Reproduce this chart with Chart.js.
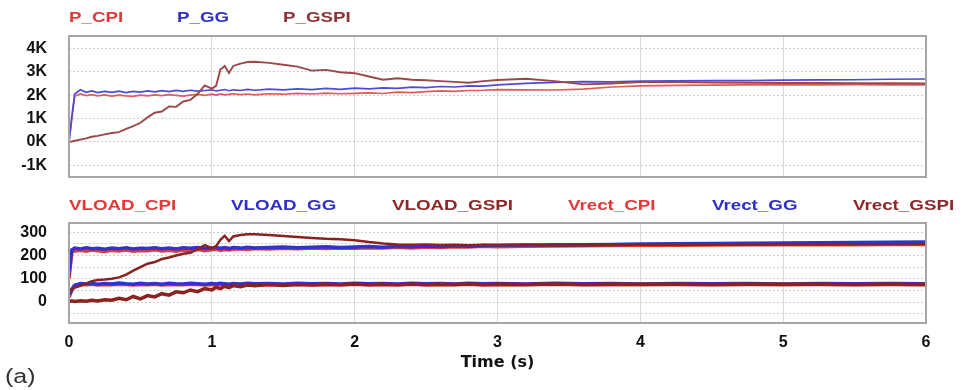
<!DOCTYPE html>
<html>
<head>
<meta charset="utf-8">
<script src="https://cdn.jsdelivr.net/npm/chart.js@4"></script>
<style>
  body { margin: 0; background: #fff; width: 963px; height: 390px; position: relative; overflow: hidden;
         font-family: "Liberation Sans", Arial, sans-serif; }
  .box { position: absolute; left: 0; width: 963px; }
  .lg { position: absolute; font-weight: bold; font-size: 15px; line-height: 18px; white-space: nowrap;
        transform: scaleX(1.25); transform-origin: left center; }
  #tag { position: absolute; left: 5px; top: 364px; font-size: 20px; line-height: 24px; color: #333;
         transform: scaleX(1.25); transform-origin: left center; }
</style>
</head>
<body>
<div class="box" style="top:190px;height:200px"><canvas id="voltChart" width="963" height="200"></canvas></div>
<div class="box" style="top:0;height:210px"><canvas id="powerChart" width="963" height="210"></canvas></div>

<span class="lg" style="left:69px;top:8px;color:#e23a3a">P_CPI</span>
<span class="lg" style="left:177px;top:8px;color:#3030c8">P_GG</span>
<span class="lg" style="left:283px;top:8px;color:#8e3434">P_GSPI</span>

<span class="lg" style="left:69px;top:196px;color:#e23a3a">VLOAD_CPI</span>
<span class="lg" style="left:231px;top:196px;color:#3030c8">VLOAD_GG</span>
<span class="lg" style="left:392px;top:196px;color:#8e2828">VLOAD_GSPI</span>
<span class="lg" style="left:568px;top:196px;color:#e23a3a">Vrect_CPI</span>
<span class="lg" style="left:712px;top:196px;color:#3030c8">Vrect_GG</span>
<span class="lg" style="left:853px;top:196px;color:#8e2828">Vrect_GSPI</span>

<span id="tag">(a)</span>

<script>
// time axis (s), shared by every series
const timeS = [0, 0.02, 0.04, 0.08, 0.12, 0.16, 0.2, 0.25, 0.3, 0.35,
    0.4, 0.45, 0.5, 0.55, 0.6, 0.65, 0.7, 0.75, 0.8, 0.85,
    0.9, 0.95, 1.0, 1.03, 1.06, 1.09, 1.12, 1.15, 1.2, 1.25,
    1.3, 1.4, 1.5, 1.6, 1.7, 1.8, 1.9, 2.0, 2.1, 2.2,
    2.3, 2.4, 2.5, 2.6, 2.7, 2.8, 2.9, 3.0, 3.2, 3.4,
    3.6, 3.8, 4.0, 4.25, 4.5, 4.75, 5.0, 5.25, 5.5, 5.75,
    6.0];

// power (W)
const pGG = [0, 1100, 2050, 2230, 2120, 2180, 2110, 2160, 2120, 2170,
    2110, 2160, 2130, 2180, 2140, 2190, 2150, 2200, 2160, 2210,
    2170, 2200, 2230, 2180, 2210, 2240, 2190, 2230, 2200, 2250,
    2210, 2260, 2230, 2270, 2240, 2290, 2250, 2300, 2270, 2310,
    2290, 2340, 2320, 2370, 2350, 2400, 2390, 2440, 2500, 2550,
    2580, 2570, 2600, 2610, 2620, 2620, 2640, 2650, 2660, 2680,
    2690];
const pCPI = [0, 1000, 1950, 2050, 1980, 2020, 1970, 2010, 1960, 2000,
    1970, 1950, 2000, 1970, 2010, 1980, 2020, 1990, 1960, 2000,
    2030, 1990, 2040, 2000, 2050, 2010, 2030, 2060, 2020, 2050,
    2010, 2060, 2040, 2080, 2050, 2090, 2060, 2080, 2100, 2070,
    2130, 2110, 2150, 2180, 2160, 2200, 2210, 2240, 2230, 2220,
    2260, 2350, 2400, 2420, 2430, 2440, 2440, 2440, 2450, 2440,
    2440];
const pGSPI = [0, 20, 50, 100, 150, 220, 260, 320, 380, 420,
    560, 680, 820, 1050, 1250, 1300, 1520, 1500, 1730, 1800,
    2050, 2420, 2280, 2400, 3100, 3250, 2950, 3250, 3350, 3420,
    3430, 3380, 3300, 3220, 3050, 3080, 2980, 2940, 2800, 2660,
    2720, 2660, 2640, 2600, 2570, 2530, 2600, 2650, 2700, 2600,
    2460, 2500, 2560, 2560, 2540, 2530, 2520, 2520, 2510, 2510,
    2500];

// voltages (V)
const vloadGG = [120, 225, 232, 228, 233, 229, 231, 227, 232, 229,
    233, 228, 231, 230, 234, 229, 232, 228, 233, 231,
    235, 230, 232, 236, 231, 234, 230, 235, 232, 236,
    233, 235, 237, 234, 236, 238, 235, 237, 239, 236,
    240, 238, 241, 239, 242, 240, 243, 244, 245, 247,
    246, 248, 250, 251, 252, 253, 254, 255, 256, 257,
    258];
const vloadCPI = [100, 215, 220, 223, 219, 224, 221, 218, 223, 220,
    224, 219, 222, 221, 225, 220, 223, 219, 224, 222,
    226, 221, 225, 228, 222, 226, 224, 227, 229, 226,
    230, 228, 231, 229, 232, 230, 233, 231, 234, 232,
    236, 233, 237, 235, 238, 237, 240, 238, 240, 241,
    242, 243, 244, 244, 245, 246, 246, 247, 247, 248,
    248];
const vloadGSPI = [40, 55, 62, 70, 80, 90, 95, 97, 100, 106,
    118, 135, 150, 165, 172, 185, 192, 200, 208, 212,
    228, 245, 232, 240, 268, 285, 262, 282, 288, 292,
    292, 288, 284, 280, 276, 272, 270, 266, 258, 252,
    248, 246, 248, 245, 247, 244, 246, 244, 246, 243,
    244, 245, 246, 246, 247, 247, 248, 248, 249, 249,
    250];
const vrectGG = [30, 55, 72, 80, 78, 81, 77, 80, 78, 82,
    79, 77, 81, 78, 80, 77, 81, 79, 78, 81,
    79, 77, 80, 78, 81, 79, 77, 80, 78, 81,
    79, 80, 78, 81, 79, 80, 78, 81, 79, 80,
    78, 81, 79, 80, 78, 81, 79, 80, 78, 81,
    79, 80, 78, 80, 79, 80, 78, 80, 79, 80,
    79];
const vrectCPI = [20, 50, 70, 76, 74, 77, 73, 76, 74, 77,
    75, 73, 76, 74, 77, 73, 76, 75, 74, 77,
    75, 73, 76, 74, 77, 75, 73, 76, 74, 77,
    75, 76, 74, 77, 75, 76, 74, 77, 75, 76,
    74, 77, 75, 76, 74, 77, 75, 76, 74, 77,
    75, 76, 74, 76, 75, 76, 74, 76, 75, 76,
    75];
const vrectGSPI = [2, 5, 3, 6, 4, 8, 5, 10, 8, 16,
    10, 24, 14, 28, 22, 36, 30, 44, 40, 52,
    45, 58, 52, 64, 58, 68, 62, 71, 66, 73,
    70, 75, 71, 76, 73, 77, 74, 78, 75, 77,
    74, 78, 75, 77, 76, 78, 75, 77, 76, 78,
    76, 77, 77, 77, 76, 77, 77, 77, 76, 77,
    76];

const timeTicks = [0, 1, 2, 3, 4, 5, 6];
const powerTicks = [-1000, 0, 1000, 2000, 3000, 4000];
const powerTickLabels = ['-1K', '0K', '1K', '2K', '3K', '4K'];
const voltTicks = [-50, 0, 50, 100, 150, 200, 250, 300];
const voltTickLabels = ['', '0', '', '100', '', '200', '', '300'];

const RED = '#e03a3a';
const BLUE = '#3232cc';
const DARK = '#8a2222';

function pts(ys) {
    return ys.map((y, i) => ({ x: timeS[i], y: y }));
}

function line(data, color, width) {
    return { data: pts(data), borderColor: color, borderWidth: width, pointRadius: 0, tension: 0, fill: false };
}

// grey frame round the plot area
const framePlugin = {
    id: 'frame',
    afterDraw(chart) {
        const a = chart.chartArea;
        const ctx = chart.ctx;
        ctx.save();
        ctx.strokeStyle = '#a6a6a6';
        ctx.lineWidth = 2;
        ctx.strokeRect(a.left, a.top, a.right - a.left, a.bottom - a.top);
        ctx.restore();
    }
};

const tickFont = { family: '"Liberation Sans", Arial, sans-serif', size: 16, weight: 'bold' };

function buildOptions(yMin, yMax, yTicks, yLabels, showX, padding) {
    return {
        responsive: false,
        animation: false,
        events: [],
        layout: { padding: padding },
        plugins: { legend: { display: false }, tooltip: { enabled: false } },
        scales: {
            x: {
                type: 'linear', min: 0, max: 6,
                afterBuildTicks: s => { s.ticks = timeTicks.map(v => ({ value: v })); },
                afterFit: s => { s.height = showX ? 67 : 0; },
                grid: { color: '#dadada', lineWidth: 1, drawTicks: false },
                border: { display: false },
                ticks: {
                    display: showX, autoSkip: false, maxRotation: 0, padding: 10,
                    color: '#111', font: tickFont,
                    callback: v => String(v)
                },
                title: {
                    display: showX, text: 'Time (s)', color: '#111',
                    font: { family: '"DejaVu Sans", sans-serif', size: 16, weight: 'bold' },
                    padding: { top: 0, bottom: 18 }
                }
            },
            y: {
                min: yMin, max: yMax,
                afterBuildTicks: s => { s.ticks = yTicks.map(v => ({ value: v })); },
                afterFit: s => { s.width = 69; },
                grid: { color: '#cdcdcd', lineWidth: 1, drawTicks: false },
                border: { display: false, dash: [2, 2] },
                ticks: {
                    autoSkip: false, padding: 22, color: '#111', font: tickFont,
                    callback: (v, i) => yLabels[i]
                }
            }
        }
    };
}

new Chart(document.getElementById('voltChart'), {
    type: 'line',
    data: {
        datasets: [
            line(vloadGSPI, DARK, 2.5),
            line(vrectGSPI, DARK, 3.5),
            line(vloadGG, BLUE, 3.5),
            line(vrectGG, BLUE, 3.5),
            line(vloadCPI, RED, 3.5),
            line(vrectCPI, RED, 3.5)
        ]
    },
    options: buildOptions(-90, 340, voltTicks, voltTickLabels, true,
        { left: 0, right: 37, top: 33, bottom: 0 }),
    plugins: [framePlugin]
});

// the top canvas is taller than its slot so the y-axis label padding fits under the plot
new Chart(document.getElementById('powerChart'), {
    type: 'line',
    data: {
        datasets: [
            line(pGSPI, '#9c4848', 1.9),
            line(pGG, '#4c4cd6', 1.7),
            line(pCPI, '#e25a5a', 1.7)
        ]
    },
    options: buildOptions(-1500, 4530, powerTicks, powerTickLabels, false,
        { left: 0, right: 37, top: 36, bottom: 33 }),
    plugins: [framePlugin]
});
</script>
</body>
</html>
